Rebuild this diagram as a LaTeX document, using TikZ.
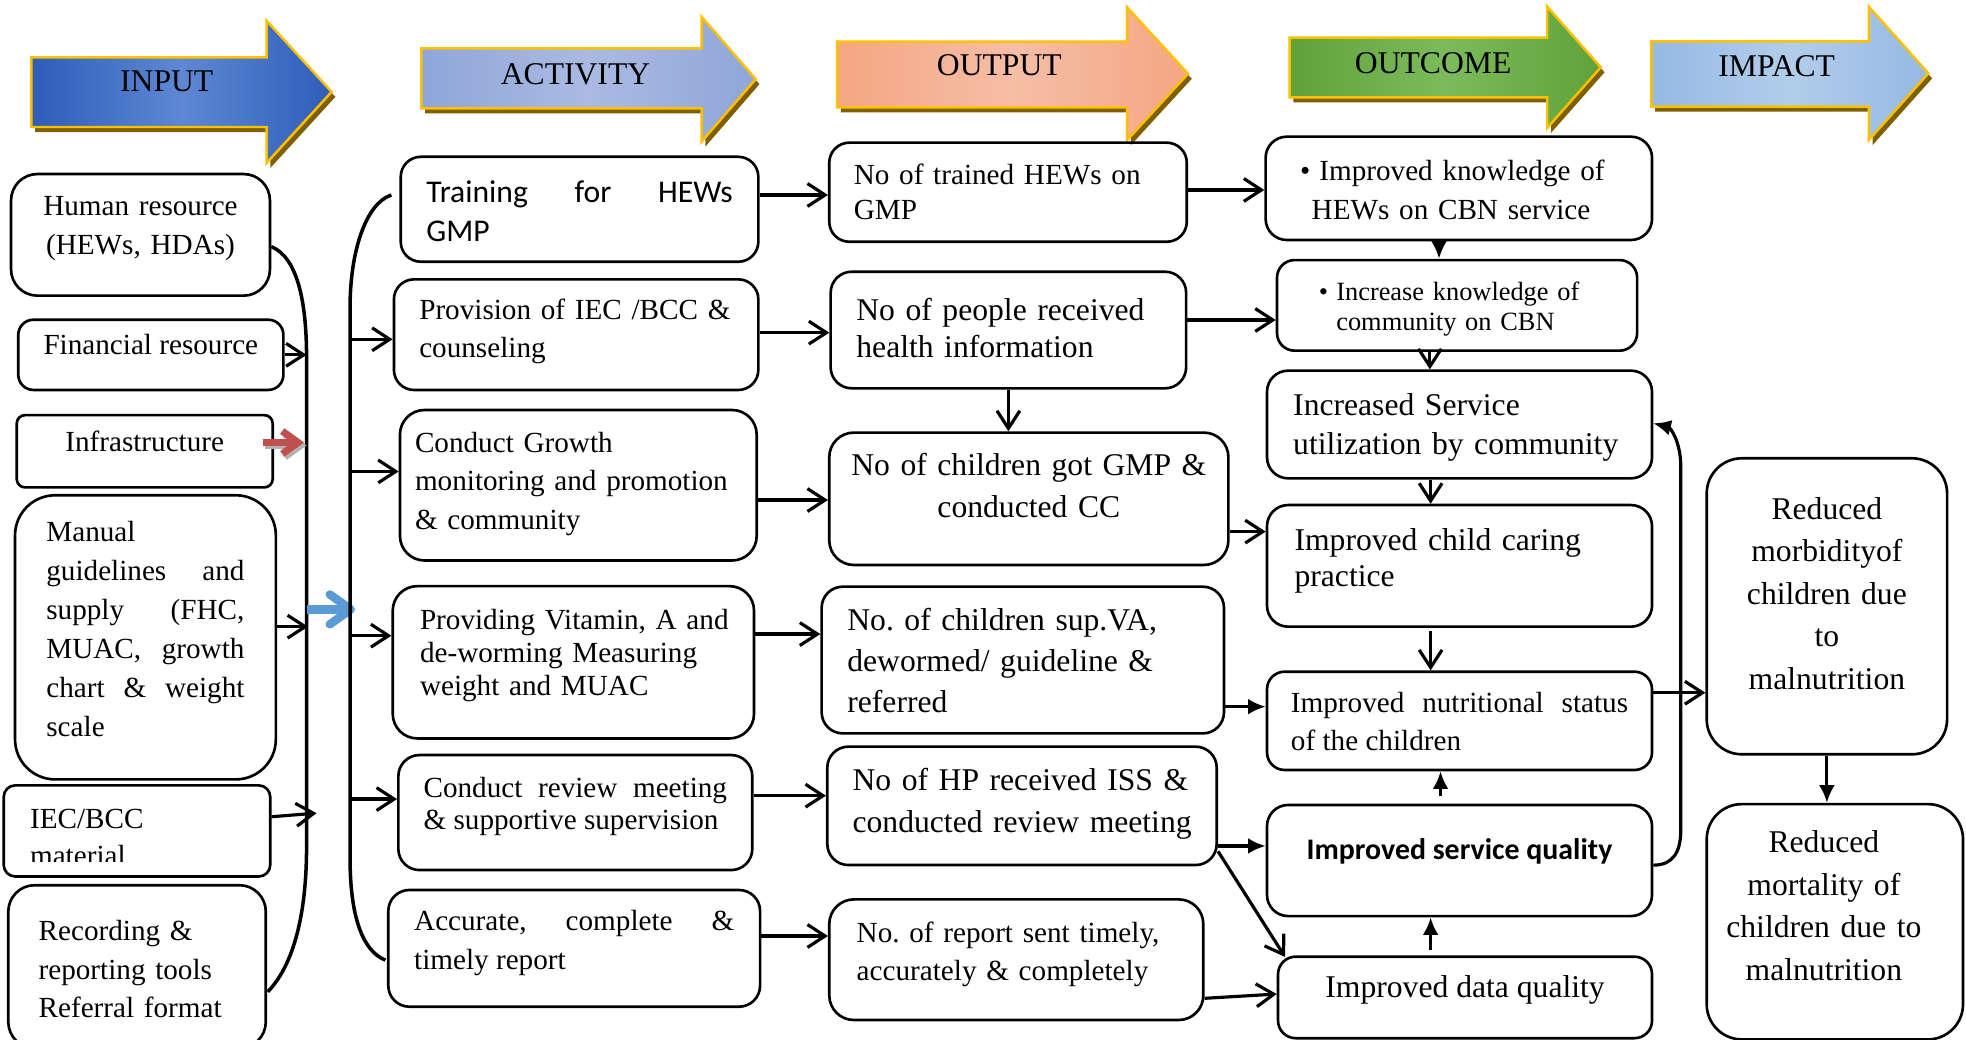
\documentclass[tikz,border=0pt]{standalone}
\usepackage{fontspec}
\setmainfont{Liberation Serif}
\newfontfamily\calibri{Carlito}
\usetikzlibrary{arrows.meta, calc}
\frenchspacing

\definecolor{gold}{HTML}{FFC000}
\definecolor{shadowbrown}{HTML}{7F6000}
\definecolor{inA}{HTML}{2E5DBA}
\definecolor{inB}{HTML}{5E88D3}
\definecolor{acA}{HTML}{8FA6D9}
\definecolor{acB}{HTML}{AABAE2}
\definecolor{ouA}{HTML}{F4A683}
\definecolor{ouB}{HTML}{F6BEA6}
\definecolor{ocA}{HTML}{5FA23A}
\definecolor{ocB}{HTML}{7CBB5B}
\definecolor{imA}{HTML}{95B9E4}
\definecolor{imB}{HTML}{B2CDEB}
\definecolor{redarrow}{HTML}{C0504D}
\definecolor{bluearrow}{HTML}{5B9BD5}

\begin{document}
\begin{tikzpicture}[
    x=0.12538mm, y=-0.12538mm,
    >={Straight Barb[length=5pt,width=6.5pt]},
    box/.style={draw, line width=0.75pt, inner sep=0pt, align=left},
    sz/.style 2 args={minimum width=#1mm, minimum height=#2mm},
    tw/.style={text width=#1mm},
    lift/.style={text height=0pt, text depth=#1mm},
    rc/.style={rounded corners=#1pt},
    fs/.style 2 args={font=\fontsize{#1}{#2}\selectfont},
    arrow/.style={->, line width=0.9pt},
    fillarrow/.style={-{Latex[length=5pt,width=4.5pt]}, line width=0.9pt},
    brace/.style={line width=1pt},
    header/.style={draw=gold, line width=0.7pt},
    redarr/.style={-{Straight Barb[length=4.5pt,width=6.5pt]}, line width=2pt, redarrow},
    bluearr/.style={-{Straight Barb[length=6pt,width=8.5pt,round]}, line width=2.4pt, bluearrow}
]
\useasboundingbox (0,0) rectangle (1568,829);
\fill[white] (0,0) rectangle (1568,829);
\clip (0,0) rectangle (1568,829);

\foreach \xa/\ya/\yb/\xh/\yc/\yd/\xt/\ca/\cb/\lab/\tx/\ty in {
    25/45.7/101.3/212.6/16.5/130/264.5/inA/inB/INPUT/133/65,
    336/38.5/86.4/559.5/13.3/113/602.7/acA/acB/ACTIVITY/459/59.5,
    667.7/33.2/85.6/899/5.9/111.7/947.5/ouA/ouB/OUTPUT/797/52,
    1028.5/30/77.6/1234/5.3/102/1276.7/ocA/ocB/OUTCOME/1143/50.5,
    1317/33/85/1490.5/5.3/111.7/1538/imA/imB/IMPACT/1417/52.6}
{
    \fill[shadowbrown, shift={(3,4)}] (\xa,\ya) -- (\xh,\ya) -- (\xh,\yc) -- (\xt,{(\yc+\yd)/2}) -- (\xh,\yd) -- (\xh,\yb) -- (\xa,\yb) -- cycle;
    \draw[header, left color=\ca, right color=\ca, middle color=\cb] (\xa,\ya) -- (\xh,\ya) -- (\xh,\yc) -- (\xt,{(\yc+\yd)/2}) -- (\xh,\yd) -- (\xh,\yb) -- (\xa,\yb) -- cycle;
    \node[fs={9}{11}] (hd\lab) at (\tx,\ty) {\lab};
}

\node[box, sz={25.89}{12.16}, rc=7.5, tw=23.38, align=center, lift=3.84, fs={8.3}{10.95}] (hr) at (112.05,187.3) {Human resource\\(HEWs, HDAs)};
\node[box, sz={26.51}{7.02}, rc=4.3, align=center, lift=-0.88, fs={8.3}{10.9}] (fin) at (120.3,283) {Financial resource};
\node[box, sz={25.60}{7.23}, rc=2.4, align=center, lift=-0.28, fs={8.3}{10.9}] (infra) at (115.4,359.9) {Infrastructure};
\node[box, sz={26.08}{28.41}, rc=11.4, tw=19.81, align=justify, lift=19.13, fs={8.3}{11.06}] (man) at (116,508.3) {Manual\linebreak guidelines and\linebreak supply (FHC,\linebreak MUAC, growth\linebreak chart \& weight\linebreak scale};
\begin{scope}
    \clip (0,620) rectangle (230,687.2);
    \node[box, draw=none, sz={26.39}{8.85}, tw=21.38, lift=0.50, fs={8.3}{10.45}] (iec) at (109.25,662.7) {IEC/BCC\\material};
\end{scope}
\draw[line width=0.75pt, rc=3.3] (iec.south west) rectangle (iec.north east);
\node[box, sz={25.75}{16.30}, rc=7.5, tw=19.68, lift=5.27, fs={8.3}{11}] (rec) at (109.3,771) {Recording \&\\reporting tools\\Referral format};

\node[box, sz={35.76}{10.49}, rc=5.7, tw=30.64, align=justify, lift=1.38, font=\calibri\fontsize{9}{11}\selectfont] (train) at (462.2,166.9) {Training for HEWs\linebreak GMP};
\node[box, sz={36.44}{11.06}, rc=5.7, tw=31.37, lift=3.08, fs={8.3}{10.84}] (prov) at (459.5,266.9) {Provision of IEC /BCC \&\\counseling};
\node[box, sz={35.67}{15.05}, rc=7, tw=32.66, lift=6.52, fs={8.3}{10.88}] (grow) at (461.25,387) {Conduct Growth\\monitoring and promotion\\\& community};
\node[box, sz={36.13}{15.23}, rc=7, tw=30.67, lift=6.62, fs={8.3}{9.49}] (vit) at (457.3,528.2) {\mbox{Providing Vitamin, A and}\\\mbox{de-worming Measuring}\\weight and MUAC};
\node[box, sz={35.39}{11.50}, rc=6, tw=30.34, align=justify, lift=3.01, fs={8.3}{9.06}] (rev) at (458.85,648.05) {Conduct review meeting\linebreak \& supportive supervision};
\node[box, sz={37.18}{11.67}, rc=6, tw=32.00, align=justify, lift=3.51, fs={8.3}{10.92}] (acc) at (457.95,756.35) {Accurate, complete \&\linebreak timely report};

\node[box, sz={35.75}{9.91}, rc=5.7, tw=30.83, lift=1.58, fs={8.3}{9.92}] (trained) at (803.95,153.3) {No of trained HEWs on\\GMP};
\node[box, sz={35.55}{11.66}, rc=6, tw=30.40, lift=1.96, fs={9}{10.56}] (people) at (804.25,263.2) {No of people received\\health information};
\node[box, sz={39.91}{13.24}, rc=7, tw=36.36, align=center, lift=4.59, fs={9}{11.88}] (gmp) at (820.55,397.8) {No of children got GMP \&\\conducted CC};
\node[box, sz={40.23}{14.67}, rc=6, tw=35.09, lift=5.87, fs={9}{11.66}] (va) at (815.75,526.4) {No. of children sup.VA,\\dewormed/ guideline \&\\referred};
\node[box, sz={38.94}{11.84}, rc=6, tw=33.88, lift=2.98, fs={9}{11.84}] (hp) at (815.1,642.7) {\mbox{No of HP received ISS \&}\\\mbox{conducted review meeting}};
\node[box, sz={37.40}{12.06}, rc=7, tw=31.91, lift=3.44, fs={8.3}{10.92}] (rep) at (810.55,765.4) {No. of report sent timely,\\accurately \& completely};

\node[box, sz={38.64}{10.33}, rc=6, tw=31.75, lift=1.48, fs={8.3}{10.88}] (know) at (1163.5,150.2) {\makebox[5.5pt][l]{\textbullet}Improved knowledge of\\\hspace*{3.3pt}HEWs on CBN service};
\node[box, sz={36.01}{9.06}, rc=5, tw=27.66, lift=0.89, fs={7.5}{8.53}] (incr) at (1162.1,243.55) {\makebox[5pt][l]{\textbullet}Increase knowledge of\\\hspace*{5pt}community on CBN};
\node[box, sz={38.50}{10.77}, rc=6, tw=33.26, lift=1.72, fs={9}{10.92}] (util) at (1164.05,338.55) {Increased Service\\utilization by community};
\node[box, sz={38.50}{12.16}, rc=6, tw=32.99, lift=2.98, fs={9}{10.2}] (care) at (1164.05,451.3) {Improved child caring\\practice};
\node[box, sz={38.50}{9.83}, rc=5, tw=33.71, align=justify, lift=1.66, fs={8.3}{10.92}] (nut) at (1164.05,574.9) {Improved nutritional status\linebreak of the children};
\node[box, sz={38.50}{11.11}, rc=6, align=center, lift=0.25, font=\calibri\bfseries\fontsize{8.5}{10}\selectfont] (svc) at (1164.05,686.3) {Improved service quality};
\node[box, sz={37.40}{8.15}, rc=5, align=center, lift=-0.38, fs={9}{11}] (data) at (1168.45,795.5) {Improved data quality};

\node[box, sz={24.04}{29.60}, rc=10, tw=21.31, align=center, lift=17.43, fs={9}{12.1}] (morb) at (1457.05,483.55) {Reduced\\morbidityof\\children due\\to\\malnutrition};
\node[box, sz={25.63}{23.53}, rc=10, tw=23.82, align=center, lift=13.79, fs={9}{12.1}] (mort) at (1463.4,735.15) {\hspace*{-2.2mm}Reduced\\\hspace*{-2.2mm}mortality of\\\hspace*{-2.2mm}children due to\\\hspace*{-2.2mm}malnutrition};

\coordinate (ibar) at (244.5,480);
\coordinate (abar) at (279.2,480);

\draw[brace] ($(hr.east)+(0,9.4)$) .. controls (237,205) and (244.5,240) .. (244.5,285) -- (244.5,675) .. controls (244.5,735) and (232,772) .. ($(rec.east)+(0.5,20)$);
\draw[arrow] (fin.east) -- (fin.east -| ibar);
\draw[redarr, gray!60, transform canvas={xshift=0.25mm, yshift=-0.3mm}] ($(infra.east)+(-9,-7)$) -- ($(infra.east -| ibar)+(-2,-7)$);
\draw[redarr] ($(infra.east)+(-9,-7)$) -- ($(infra.east -| ibar)+(-2,-7)$);
\draw[arrow] ($(man.east)+(0,-8.5)$) -- ($(man.east -| ibar)+(1.2,-8.5)$);
\draw[arrow] ($(iec.east)+(0.9,-11.3)$) -- ($(iec.east -| ibar)+(8,-14.2)$);
\draw[bluearr] (ibar |- 0,486) -- ($(abar |- 0,486)+(4,0)$);

\draw[brace] ($(train.west)+(-6.4,-11.4)$) .. controls (292,162) and (279.2,200) .. (279.2,245) -- (279.2,685) .. controls (279.2,728) and (288,758) .. ($(acc.west)+(-1.3,9.4)$);
\draw[arrow] (abar |- 0,270.6) -- (prov.west |- 0,270.6);
\draw[arrow] (abar |- 0,376) -- (grow.west |- 0,376);
\draw[arrow] (abar |- 0,507) -- (vit.west |- 0,507);
\draw[arrow] (abar |- 0,637.3) -- (rev.west |- 0,637.3);

\draw[arrow] (train.east |- 0,155.5) -- (trained.west |- 0,155.5);
\draw[arrow] (prov.east |- 0,265.3) -- (people.west |- 0,265.3);
\draw[arrow] (grow.east |- 0,398.8) -- (gmp.west |- 0,398.8);
\draw[arrow] (vit.east |- 0,505.7) -- (va.west |- 0,505.7);
\draw[arrow] (rev.east |- 0,634.6) -- (hp.west |- 0,634.6);
\draw[arrow] (acc.east |- 0,746.5) -- (rep.west |- 0,746.5);
\draw[arrow] (people.south) -- (people.south |- gmp.north);

\draw[arrow] (trained.east |- 0,151.5) -- (know.west |- 0,151.5);
\draw[arrow] (people.east |- 0,255.2) -- (incr.west |- 0,255.2);
\draw[arrow] (gmp.east |- 0,424) -- (care.west |- 0,424);
\draw[fillarrow] (va.east |- 0,563.6) -- (nut.west |- 0,563.6);
\draw[fillarrow] (hp.east |- 0,674.7) -- (svc.west |- 0,674.7);
\draw[arrow] ($(hp.south east)+(0,-12)$) -- ($(data.north west)+(6.7,1.3)$);
\draw[arrow] (rep.east |- 0,796.2) -- (data.west |- 0,792.8);

\draw[fillarrow] (1147.7,0 |- know.south) -- (1147.7,0 |- incr.north);
\draw[arrow] (1140.4,0 |- incr.south) -- (1140.4,0 |- util.north);
\draw[arrow] (1141,0 |- util.south) -- (1141,0 |- care.north);
\draw[arrow] ($(1141,0 |- care.south)+(0,2.7)$) -- (1141,0 |- nut.north);
\draw[fillarrow] ($(1148.9,0 |- svc.north)+(0,-6)$) -- (1148.9,0 |- nut.south);
\draw[fillarrow] ($(1141,0 |- data.north)+(0,-4)$) -- (1141,0 |- svc.south);
\draw[fillarrow] (svc.east |- 0,690) .. controls (1334,690) and (1340.5,680) .. (1340.5,662) -- (1340.5,372) .. controls (1340.5,352) and (1332,341) .. (util.east |- 0,337.6);

\draw[arrow] (nut.east |- 0,552.5) -- (morb.west |- 0,552.5);
\draw[fillarrow] (morb.south) -- (morb.south |- mort.north);

\end{tikzpicture}
\end{document}
